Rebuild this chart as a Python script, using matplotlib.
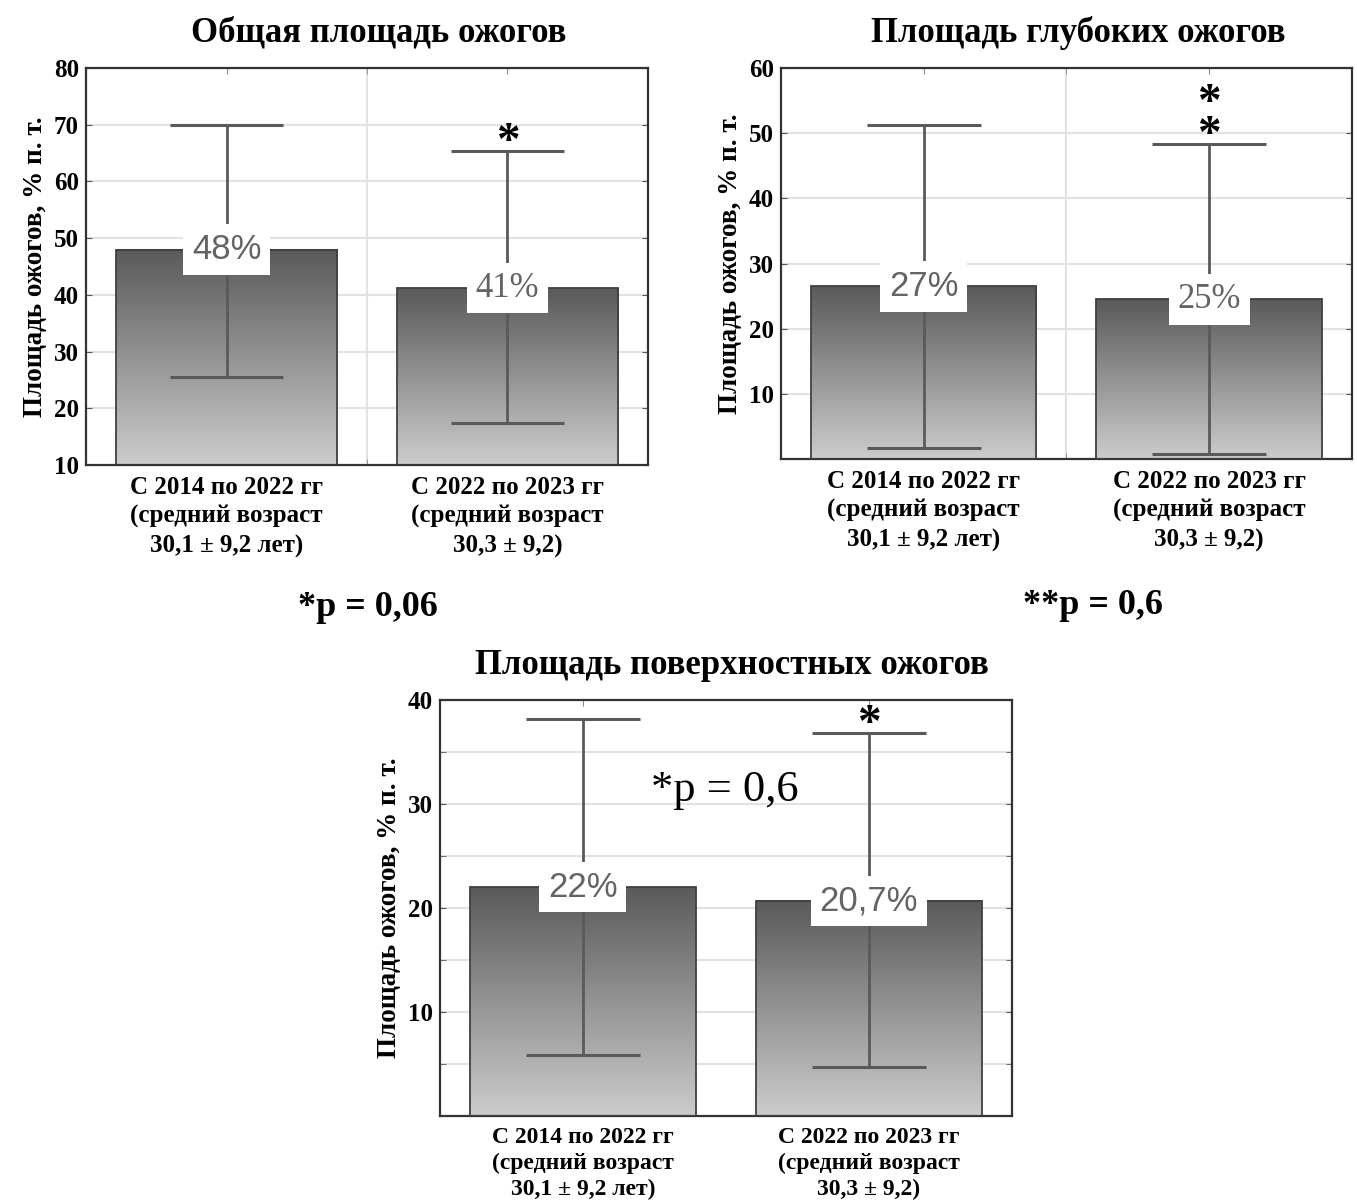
import numpy as np
import matplotlib.pyplot as plt
from matplotlib.colors import LinearSegmentedColormap

# data
groups = ["С 2014 по 2022 гг\n(средний возраст\n30,1 ± 9,2 лет)",
          "С 2022 по 2023 гг\n(средний возраст\n30,3 ± 9,2)"]
total_mean = [48, 41.2]
total_low = [25.6, 17.4]
total_high = [70, 65.3]
total_lbl = ["48%", "41%"]

deep_mean = [26.5, 24.5]
deep_low = [1.7, 0.7]
deep_high = [51.2, 48.3]
deep_lbl = ["27%", "25%"]

surf_mean = [22, 20.7]
surf_low = [5.9, 4.7]
surf_high = [38.2, 36.8]
surf_lbl = ["22%", "20,7%"]

SERIF = ["Liberation Serif", "DejaVu Serif"]
SANS = ["Liberation Sans", "DejaVu Sans"]
plt.rcParams['font.family'] = SERIF

cmap = LinearSegmentedColormap.from_list("g", ["#cccccc", "#5a5a5a"])
grad = np.linspace(0, 1, 256).reshape(-1, 1)

fig = plt.figure(figsize=(13.57, 12), dpi=100)


def panel(rect, title, mean, low, high, lbl, lbl_fonts, ylim, yticks, minor_y, vgrid, stars,
          xsize=18, lsp=1.33, tx=0.52):
    ax = fig.add_axes(rect)
    x = np.arange(len(mean))
    bars = ax.bar(x, mean, width=0.79, facecolor="none", edgecolor="#404040", lw=1.3, zorder=3)
    for b in bars:
        x0 = b.get_x()
        ax.imshow(grad, cmap=cmap, origin="lower", aspect="auto", zorder=2,
                  extent=[x0, x0 + b.get_width(), max(ylim[0], 0), b.get_height()])
    # error bars
    ax.vlines(x, low, high, color="#5a5a5a", lw=2, zorder=4)
    ax.hlines(low, x - 0.2, x + 0.2, color="#5a5a5a", lw=2.2, zorder=4)
    ax.hlines(high, x - 0.2, x + 0.2, color="#5a5a5a", lw=2.2, zorder=4)
    for i in range(len(mean)):
        ax.text(x[i], mean[i], lbl[i], ha="center", va="center", fontsize=25,
                color="#646464", family=lbl_fonts[i], zorder=5,
                bbox=dict(boxstyle="square,pad=0.25", fc="white", ec="none"))
    for i, s in stars:
        ax.annotate(s, (x[i], high[i]), xytext=(0, -9), textcoords="offset points",
                    ha="center", va="bottom", fontsize=34, fontweight="bold",
                    linespacing=0.68, zorder=5)
    ax.set_xlim(-0.5, 1.5)
    ax.set_ylim(*ylim)
    ax.set_yticks(yticks)
    ax.set_yticklabels([str(t) for t in yticks], fontsize=18, fontweight="bold")
    if minor_y:
        ax.set_yticks(minor_y, minor=True)
    ax.set_xticks(x)
    ax.set_xticklabels(groups, fontsize=xsize, fontweight="bold", linespacing=lsp)
    if vgrid:
        ax.set_xticks([0.5], minor=True)
        ax.grid(True, axis="x", which="minor", color="#e2e2e2", lw=1.5, zorder=0)
    ax.grid(True, axis="y", which="both", color="#e2e2e2", lw=1.5, zorder=0)
    ax.set_axisbelow(True)
    ax.tick_params(axis="y", which="both", direction="in", length=4, right=True, color="#555", pad=5)
    ax.tick_params(axis="x", which="both", direction="in", length=4, top=True, color="#888", pad=8)
    for sp in ax.spines.values():
        sp.set_color("#333")
        sp.set_linewidth(1.6)
    ax.set_ylabel("Площадь ожогов, % п. т.", fontsize=19.5, fontweight="bold", labelpad=4)
    ax.set_title(title, fontsize=25, fontweight="bold", pad=19, x=tx)
    return ax


panel([0.0634, 0.6125, 0.4141, 0.3308], "Общая площадь ожогов",
      total_mean, total_low, total_high, total_lbl, [SANS, SERIF],
      (10, 80), [10, 20, 30, 40, 50, 60, 70, 80], None, True, [(1, "*")])

panel([0.5755, 0.6175, 0.4208, 0.3258], "Площадь глубоких ожогов",
      deep_mean, deep_low, deep_high, deep_lbl, [SANS, SERIF],
      (0, 60), [10, 20, 30, 40, 50, 60], None, True, [(1, "*\n*")])

ax3 = panel([0.3242, 0.0700, 0.4215, 0.3467], "Площадь поверхностных ожогов",
            surf_mean, surf_low, surf_high, surf_lbl, [SANS, SANS],
            (0, 40), [10, 20, 30, 40], [5, 15, 25, 35], False, [(1, "*")],
            xsize=17, lsp=1.3, tx=0.51)
ax3.text(0.498, 0.784, "*p = 0,6", transform=ax3.transAxes, ha="center", va="center",
         fontsize=32, zorder=6)

fig.text(368 / 1357, 1 - 607 / 1200, "*p = 0,06", ha="center", va="center",
         fontsize=26, fontweight="bold")
fig.text(1093 / 1357, 1 - 605 / 1200, "**p = 0,6", ha="center", va="center",
         fontsize=26, fontweight="bold")

fig.savefig("out.png", dpi=100)
